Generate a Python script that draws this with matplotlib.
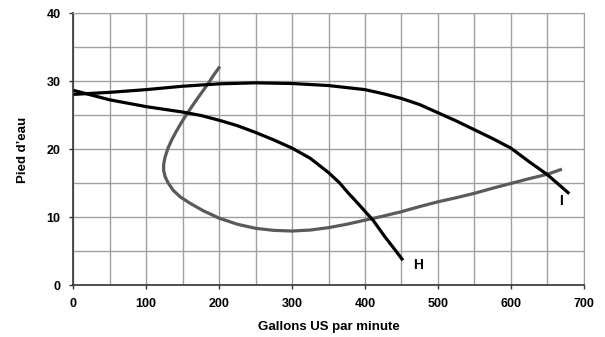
import matplotlib
matplotlib.use('Agg')
import matplotlib.pyplot as plt

# Courbes (gallons US/min, pieds d'eau)
i_gpm = [0, 50, 100, 150, 200, 250, 300, 350, 400, 425, 450, 475, 500, 525, 550, 575, 600, 625, 650, 665, 680]
i_ft = [28.1, 28.4, 28.8, 29.3, 29.65, 29.8, 29.7, 29.4, 28.8, 28.2, 27.5, 26.6, 25.4, 24.2, 22.9, 21.6, 20.2, 18.2, 16.3, 14.9, 13.5]

h_gpm = [0, 25, 50, 75, 100, 125, 150, 175, 200, 225, 250, 275, 300, 325, 350, 365, 377, 390, 400, 411, 427, 440, 452]
h_ft = [28.7, 28.0, 27.3, 26.8, 26.3, 25.9, 25.5, 25.0, 24.3, 23.5, 22.5, 21.4, 20.2, 18.7, 16.6, 15.1, 13.6, 12.1, 10.9, 9.6, 7.2, 5.4, 3.7]

gray_gpm = [201, 193, 185, 177, 169, 162, 155, 148, 141, 135, 130, 126, 124, 124, 126, 130, 137, 147, 160, 178,
            200, 225, 250, 275, 300, 325, 350, 375, 400, 425, 450, 475, 500, 525, 550, 575, 600, 625, 650, 670]
gray_ft = [32.2, 31.0, 29.7, 28.5, 27.3, 26.2, 25.1, 23.9, 22.6, 21.4, 20.2, 18.9, 17.8, 16.9, 16.0, 15.1, 14.0, 13.0, 12.1, 11.0,
           9.9, 9.0, 8.4, 8.1, 8.0, 8.15, 8.5, 9.0, 9.6, 10.2, 10.85, 11.6, 12.3, 12.9, 13.55, 14.3, 15.0, 15.7, 16.35, 17.1]

x_ticks = [0, 100, 200, 300, 400, 500, 600, 700]
y_ticks = [0, 10, 20, 30, 40]

plt.rcParams['font.family'] = ['Liberation Sans', 'DejaVu Sans']

fig = plt.figure(figsize=(6.05, 3.37), dpi=100)
ax = fig.add_axes([0.121, 0.153, 0.844, 0.807])

ax.set_xlim(0, 700)
ax.set_ylim(0, 40)
ax.set_xticks(x_ticks)
ax.set_yticks(y_ticks)
ax.set_xticks(range(50, 700, 100), minor=True)
ax.set_yticks(range(5, 40, 10), minor=True)
ax.grid(True, which='both', color='#a0a0a0', linewidth=1.0)
ax.set_axisbelow(True)

ax.plot(gray_gpm, gray_ft, color='#5a5a5a', linewidth=2.3, solid_capstyle='butt')
ax.plot(i_gpm, i_ft, color='black', linewidth=2.3, solid_capstyle='butt')
ax.plot(h_gpm, h_ft, color='black', linewidth=2.3, solid_capstyle='butt')

ax.text(473, 3.0, 'H', fontsize=10, fontweight='bold', ha='center', va='center')
ax.text(669, 12.4, 'I', fontsize=10, fontweight='bold', ha='center', va='center')

for s in ['top', 'right']:
    ax.spines[s].set_color('#a0a0a0')
for s in ['left', 'bottom']:
    ax.spines[s].set_color('#333333')
    ax.spines[s].set_linewidth(1.2)

ax.tick_params(which='major', length=3, width=1, color='#333333', labelsize=9, pad=6)
ax.tick_params(which='minor', length=0)
for lbl in ax.get_xticklabels() + ax.get_yticklabels():
    lbl.set_fontweight('bold')

ax.set_xlabel('Gallons US par minute', fontsize=9.5, fontweight='bold', labelpad=8)
ax.set_ylabel('Pied d’eau', fontsize=9.5, fontweight='bold', labelpad=13)

fig.savefig('out.png', dpi=100)
